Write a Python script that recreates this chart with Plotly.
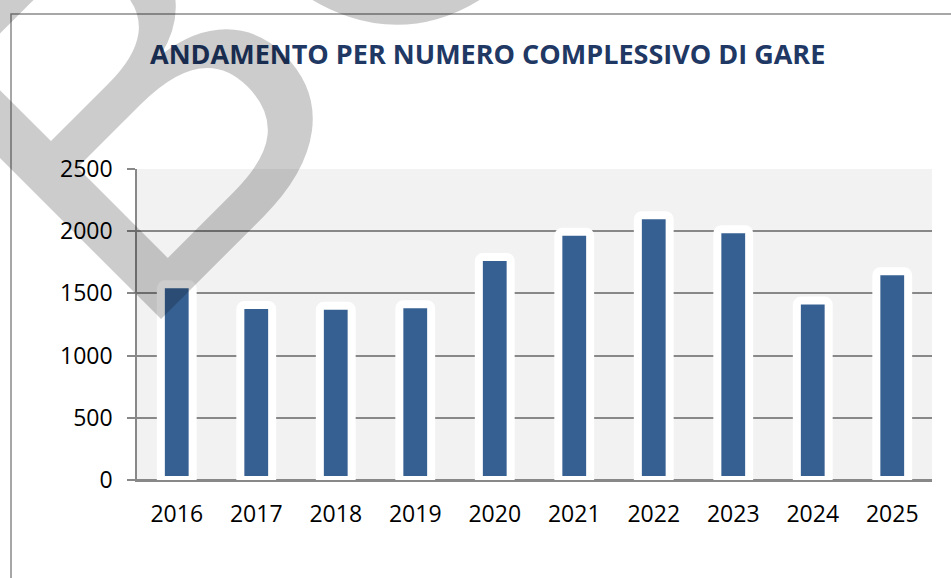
import plotly.graph_objects as go

# ---- data ----
years = ["2016", "2017", "2018", "2019", "2020", "2021", "2022", "2023", "2024", "2025"]
gare = [1573, 1407, 1401, 1413, 1793, 1996, 2128, 2016, 1442, 1678]
y_ticks = [0, 500, 1000, 1500, 2000, 2500]
title_text = "ANDAMENTO PER NUMERO COMPLESSIVO DI GARE"
watermark_text = "BOZZA"

W, H = 951, 578
ML, MR, MT, MB = 137, 19, 169, 98
PW, PH = W - ML - MR, H - MT - MB


def px_x(px):
    return (px - ML) / PW


def px_y(py):
    return (H - MB - py) / PH


grid_col = "#888888"
font_fam = "Open Sans, Lato, DejaVu Sans, sans-serif"

fig = go.Figure()
fig.add_trace(go.Bar(
    x=years,
    y=gare,
    width=0.4,
    marker=dict(color="#366092", line=dict(color="#FFFFFF", width=8), cornerradius=4),
    hoverinfo="x+y",
))

fig.update_layout(
    width=W,
    height=H,
    margin=dict(l=ML, r=MR, t=MT, b=MB, pad=0),
    paper_bgcolor="#FFFFFF",
    plot_bgcolor="#F2F2F2",
    showlegend=False,
    font=dict(family=font_fam, size=23, color="#000000"),
    bargap=0.6,
)

fig.update_xaxes(
    type="category",
    showgrid=False,
    showline=True,
    linecolor=grid_col,
    linewidth=1.5,
    ticks="",
    tickfont=dict(size=23, color="#000000"),
    ticklabelstandoff=13,
)
fig.update_yaxes(
    range=[0, 2500],
    tickvals=y_ticks,
    showgrid=True,
    gridcolor=grid_col,
    gridwidth=1.5,
    zeroline=True,
    zerolinecolor=grid_col,
    zerolinewidth=1.5,
    showline=True,
    linecolor=grid_col,
    linewidth=1.5,
    ticks="outside",
    ticklen=8,
    tickwidth=1.5,
    tickcolor=grid_col,
    tickfont=dict(size=23, color="#000000"),
    ticklabelstandoff=10,
)

# title
fig.add_annotation(
    text="<b>" + title_text + "</b>",
    xref="paper", yref="paper",
    x=px_x(487), y=px_y(54),
    xanchor="center", yanchor="middle",
    showarrow=False,
    font=dict(family=font_fam, size=27, color="#1F3864"),
)

# chart frame (partially visible)
fig.add_shape(
    type="rect", xref="paper", yref="paper",
    x0=px_x(11), y0=px_y(600), x1=px_x(980), y1=px_y(14),
    line=dict(color="#8A8A8A", width=1.5),
    fillcolor="rgba(0,0,0,0)",
    layer="above",
)

# watermark
fig.add_annotation(
    text=watermark_text,
    xref="paper", yref="paper",
    x=px_x(612), y=px_y(-385),
    xanchor="center", yanchor="middle",
    textangle=-45,
    showarrow=False,
    font=dict(family="Liberation Sans, Arial, sans-serif", size=515, color="rgba(0,0,0,0.2)"),
)

fig.write_html(
    "out.html",
    config={"displayModeBar": False},
    post_script="document.body.style.margin='0px';document.body.style.padding='0px';",
)
